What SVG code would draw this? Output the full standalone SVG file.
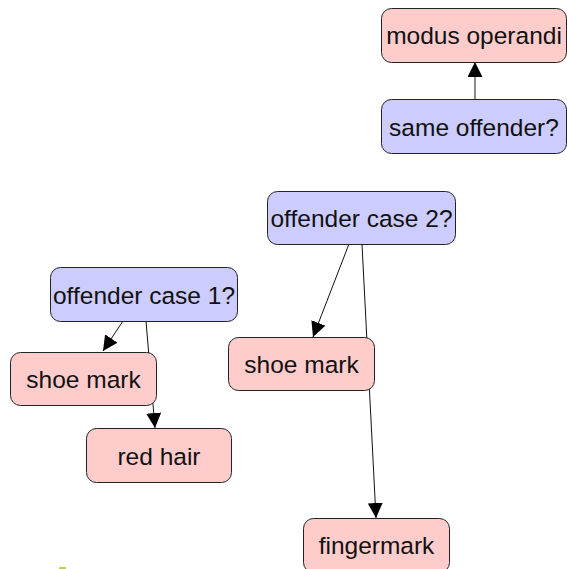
<svg xmlns="http://www.w3.org/2000/svg" width="567" height="569" viewBox="0 0 567 569">
  <style>
    .box rect { stroke: #222; stroke-width: 1; }
    .q rect { fill: #ccccff; }
    .ev rect { fill: #ffcccc; }
    .box text { font-family: "Liberation Sans", Arial, sans-serif; font-size: 24.5px; fill: #111; text-anchor: middle; }
    .edge { stroke: #111; stroke-width: 1; fill: none; marker-end: url(#tip); }
    .edge-soft { stroke: #666; stroke-width: 1.5; fill: none; marker-end: url(#tip); }
  </style>
  <defs>
    <marker id="tip" viewBox="0 0 10 10" refX="10" refY="5" markerWidth="15" markerHeight="15" markerUnits="userSpaceOnUse" orient="auto">
      <path d="M0,0 L10,5 L0,10 Z" fill="#000"/>
    </marker>
  </defs>

  <rect width="567" height="569" fill="#fff"/>

  <g id="connectors">
    <line class="edge-soft" x1="475" y1="100" x2="475" y2="62"/>
    <line class="edge" x1="123" y1="321" x2="103" y2="351"/>
    <line class="edge" x1="146" y1="321" x2="155" y2="428"/>
    <line class="edge" x1="349" y1="244" x2="313" y2="337"/>
    <line class="edge" x1="362" y1="244" x2="376" y2="518"/>
  </g>

  <g id="modus-operandi" class="box ev">
    <rect x="381.5" y="8.5" width="185" height="54" rx="10"/>
    <text x="474" y="43.5">modus operandi</text>
  </g>
  <g id="same-offender" class="box q">
    <rect x="381.5" y="99.5" width="185" height="54" rx="10"/>
    <text x="474" y="135.5">same offender?</text>
  </g>
  <g id="offender-case-2" class="box q">
    <rect x="267.5" y="191.5" width="188" height="53" rx="10"/>
    <text x="361.5" y="226.5">offender case 2?</text>
  </g>
  <g id="offender-case-1" class="box q">
    <rect x="50.5" y="267.5" width="187" height="54" rx="10"/>
    <text x="144" y="303.5">offender case 1?</text>
  </g>
  <g id="shoe-mark-1" class="box ev">
    <rect x="10.5" y="352.5" width="146" height="53" rx="10"/>
    <text x="83.5" y="387.5">shoe mark</text>
  </g>
  <g id="red-hair" class="box ev">
    <rect x="86.5" y="428.5" width="145" height="54" rx="10"/>
    <text x="159" y="464.5">red hair</text>
  </g>
  <g id="shoe-mark-2" class="box ev">
    <rect x="228.5" y="337.5" width="146" height="53" rx="10"/>
    <text x="301.5" y="372.5">shoe mark</text>
  </g>
  <g id="fingermark" class="box ev">
    <rect x="303.5" y="518.5" width="146" height="54" rx="10"/>
    <text x="376.5" y="553.5">fingermark</text>
  </g>

  <rect x="59" y="567" width="7" height="2" fill="#b5d16a"/>
</svg>
